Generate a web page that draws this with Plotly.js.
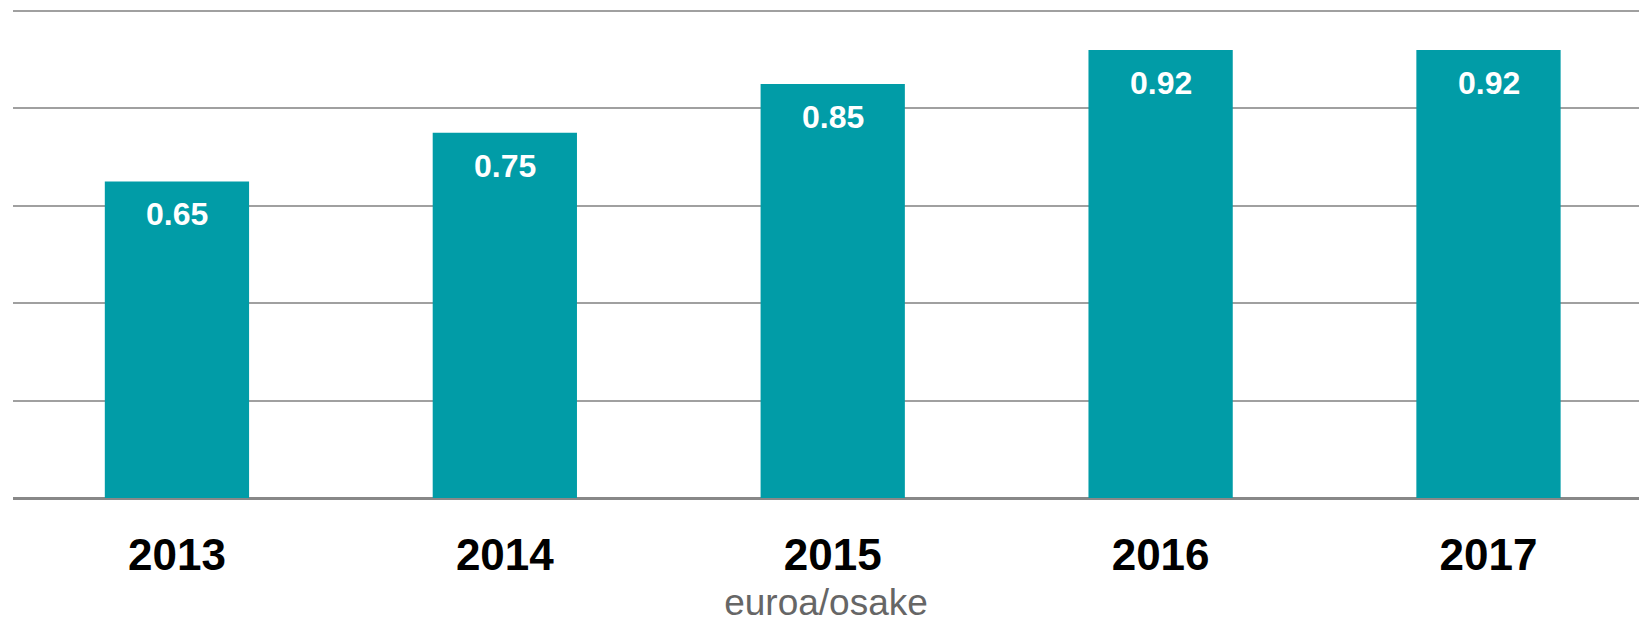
<!DOCTYPE html>
<html>
<head>
<meta charset="utf-8">
<script src="https://cdn.plot.ly/plotly-3.0.1.min.js"></script>
<style>
html,body{margin:0;padding:0;background:#fff;}
#chart{width:1639px;height:624px;}
</style>
</head>
<body>
<div id="chart"></div>
<script>
const years = ['2013', '2014', '2015', '2016', '2017'];
const dividends = [0.65, 0.75, 0.85, 0.92, 0.92];
const unitLabel = 'euroa/osake';

const trace = {
  type: 'bar',
  x: years,
  y: dividends,
  width: 0.44,
  marker: {color: '#019ca7', line: {width: 0}},
  hoverinfo: 'skip'
};

const valueLabels = years.map((yr, i) => ({
  x: i,
  y: dividends[i],
  xref: 'x',
  yref: 'y',
  text: dividends[i].toFixed(2),
  showarrow: false,
  yanchor: 'middle',
  xanchor: 'center',
  yshift: -33,
  font: {family: 'Liberation Sans, Arial, sans-serif', size: 32, color: '#ffffff', weight: 'bold'}
}));

const layout = {
  width: 1639,
  height: 624,
  margin: {l: 13, r: 0, t: 6, b: 126},
  paper_bgcolor: '#ffffff',
  plot_bgcolor: '#ffffff',
  showlegend: false,
  annotations: valueLabels,
  xaxis: {
    type: 'category',
    range: [-0.5, 4.459],
    showgrid: false,
    zeroline: false,
    showline: false,
    ticks: '',
    ticklabelstandoff: 27,
    tickfont: {family: 'Liberation Sans, Arial, sans-serif', size: 44, color: '#000000', weight: 'bold'},
    title: {
      text: unitLabel,
      standoff: 11,
      font: {family: 'Liberation Sans, Arial, sans-serif', size: 37, color: '#666666'}
    }
  },
  yaxis: {
    range: [0, 1.0103],
    tickvals: [0, 0.2, 0.4, 0.6, 0.8, 1.0],
    showticklabels: false,
    showgrid: true,
    gridcolor: '#a0a0a0',
    gridwidth: 2,
    zeroline: true,
    zerolinecolor: '#888888',
    zerolinewidth: 3,
    showline: false,
    ticks: ''
  }
};

Plotly.newPlot('chart', [trace], layout, {staticPlot: true, displayModeBar: false});
</script>
</body>
</html>
